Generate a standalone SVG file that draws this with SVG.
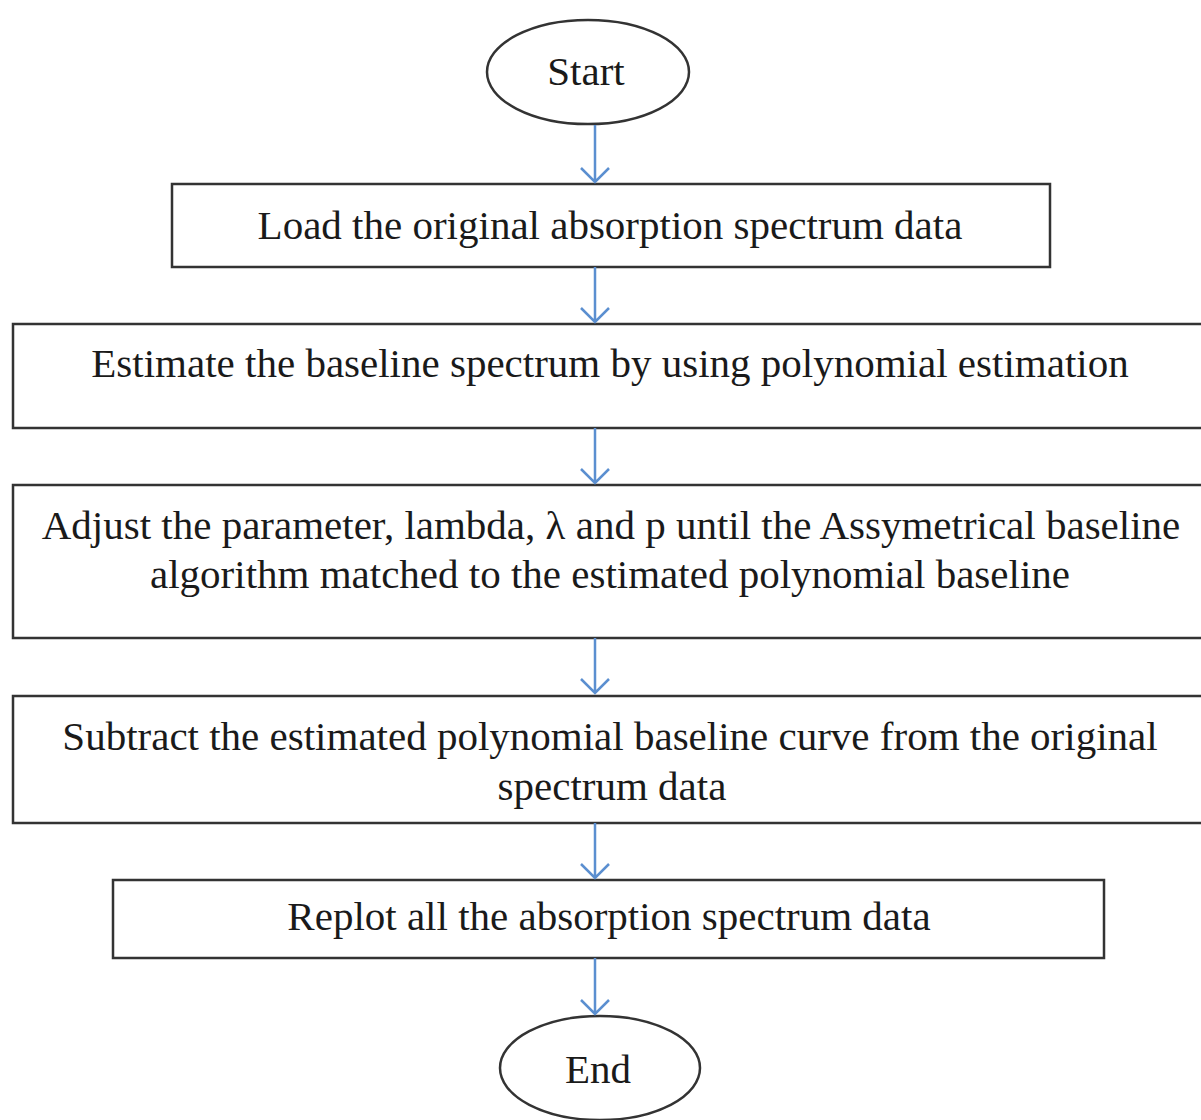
<svg xmlns="http://www.w3.org/2000/svg" width="1201" height="1120" viewBox="0 0 1201 1120">
<style>
.box{fill:#fff;stroke:#333;stroke-width:2.5}
.t{font-family:"Liberation Serif","Times New Roman",serif;font-size:41px;fill:#1a1a1a;text-anchor:middle}
.c{stroke:#5b8fd0;stroke-width:2.5;fill:none}
</style>
<rect width="1201" height="1120" fill="#fff"/>
<g id="start"><ellipse class="box" cx="588" cy="72" rx="101" ry="52"/><text class="t" x="586" y="85">Start</text></g>
<g id="load"><rect class="box" x="172" y="184" width="878" height="83"/><text class="t" x="610" y="239">Load the original absorption spectrum data</text></g>
<g id="estimate"><rect class="box" x="13" y="324" width="1200" height="104"/><text class="t" x="610" y="377">Estimate the baseline spectrum by using polynomial estimation</text></g>
<g id="adjust"><rect class="box" x="13" y="485" width="1200" height="153"/><text class="t" x="611" y="539">Adjust the parameter, lambda, λ and p until the Assymetrical baseline</text><text class="t" x="610" y="588">algorithm matched to the estimated polynomial baseline</text></g>
<g id="subtract"><rect class="box" x="13" y="696" width="1200" height="127"/><text class="t" x="610" y="750">Subtract the estimated polynomial baseline curve from the original</text><text class="t" x="612" y="800">spectrum data</text></g>
<g id="replot"><rect class="box" x="113" y="880" width="991" height="78"/><text class="t" x="609" y="930">Replot all the absorption spectrum data</text></g>
<g id="end"><ellipse class="box" cx="600" cy="1068" rx="100" ry="52"/><text class="t" x="598" y="1083">End</text></g>
<g id="connectors">
<path class="c" d="M595 125V182M581 168L595 182L609 168"/>
<path class="c" d="M595 267V322M581 308L595 322L609 308"/>
<path class="c" d="M595 428V483M581 469L595 483L609 469"/>
<path class="c" d="M595 638V693M581 679L595 693L609 679"/>
<path class="c" d="M595 823V878M581 864L595 878L609 864"/>
<path class="c" d="M595 958V1014M581 1000L595 1014L609 1000"/>
</g>
</svg>
